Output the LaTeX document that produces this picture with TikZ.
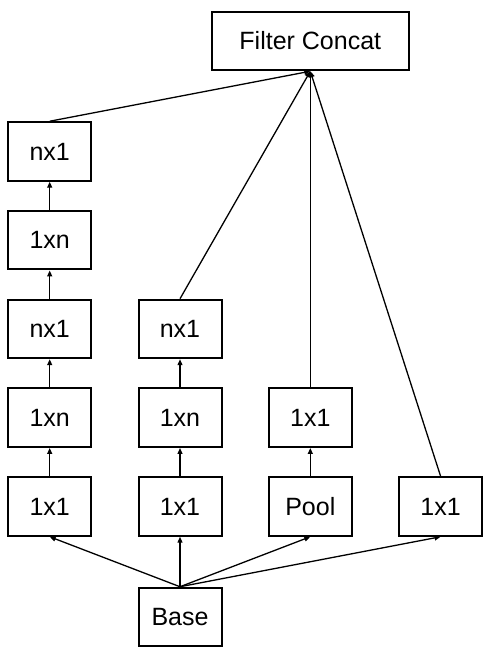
\documentclass[tikz,border=0pt]{standalone}
\usepackage{fontspec}
\setmainfont{Liberation Sans}
\usetikzlibrary{arrows.meta,positioning}
\tikzset{
  >={Triangle[length=6pt,width=5pt]},
  flow/.style={->,line width=1.3pt},
  box/.style={draw,line width=2pt,minimum width=83pt,minimum height=58.5pt,
    inner sep=0pt,align=center,font=\fontsize{25}{30}\selectfont},
  widebox/.style={box,minimum width=196.5pt}
}
\begin{document}
\begin{tikzpicture}[x=1pt,y=1pt,node distance=28.25pt and 45.3pt]
  \useasboundingbox (0,0) rectangle (491,658);
  \node[box] (base) at (180,41) {Base};
  \node[box,above=50pt of base] (b1) {1x1};
  \node[box,left=of b1] (a1) {1x1};
  \node[box,right=of b1] (c1) {Pool};
  \node[box,right=of c1] (d1) {1x1};
  \node[box,above=of a1] (a2) {1xn};
  \node[box,above=of a2] (a3) {nx1};
  \node[box,above=of a3] (a4) {1xn};
  \node[box,above=of a4] (a5) {nx1};
  \node[box,above=of b1] (b2) {1xn};
  \node[box,above=of b2] (b3) {nx1};
  \node[box,above=of c1] (c2) {1x1};
  \coordinate (top) at (c1 |- a5.north);
  \node[widebox,above=50pt of top] (concat) {Filter Concat};
  % base to first row
  \draw[flow] (base.north) -- (a1.south);
  \draw[flow] (base.north) -- (b1.south);
  \draw[flow] (base.north) -- (c1.south);
  \draw[flow] (base.north) -- (d1.south);
  % columns
  \draw[flow] (a1) -- (a2); \draw[flow] (a2) -- (a3); \draw[flow] (a3) -- (a4); \draw[flow] (a4) -- (a5);
  \draw[flow] (b1) -- (b2); \draw[flow] (b2) -- (b3);
  \draw[flow] (c1) -- (c2);
  % into concat
  \draw[flow] (a5.north) -- (concat.south);
  \draw[flow] (b3.north) -- (concat.south);
  \draw[flow] (c2.north) -- (concat.south);
  \draw[flow] (d1.north) -- (concat.south);
\end{tikzpicture}
\end{document}
